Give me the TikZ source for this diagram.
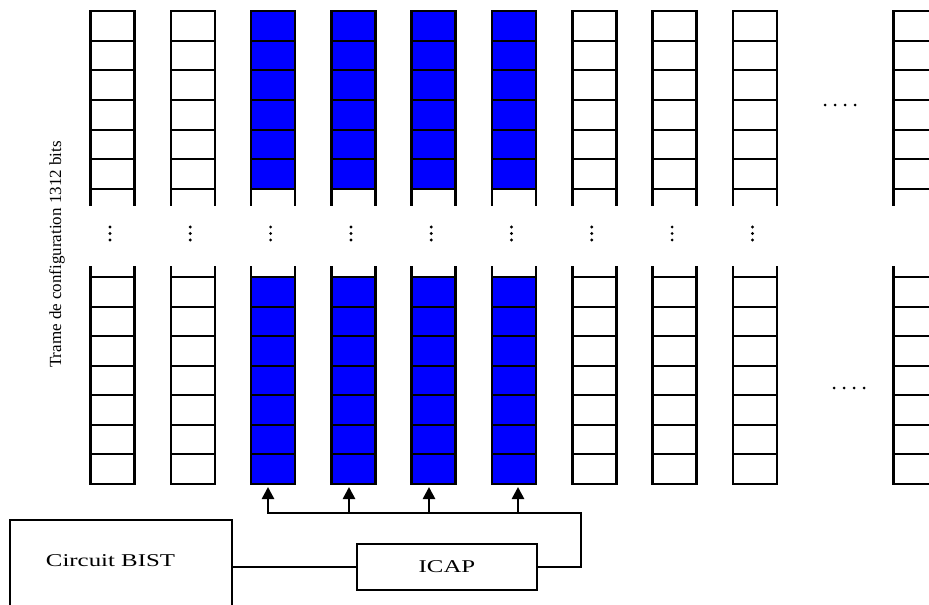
\documentclass[tikz,border=0pt]{standalone}
\usepackage{fontspec}
\setmainfont{Liberation Serif}
\usetikzlibrary{arrows.meta}
\definecolor{cellblue}{RGB}{0,0,255}
\begin{document}
\begin{tikzpicture}[x=1pt,y=-1pt,
  vline/.style={line width=2.6pt},
  hline/.style={line width=2pt},
  boxstyle/.style={draw,line width=2.4pt,inner sep=0pt,rectangle},
  wire/.style={line width=2.2pt},
  feed/.style={line width=2.6pt,-{Triangle[width=12pt,length=12pt]}},
  dotmark/.style={fill=black,radius=1.6pt},
  lbl/.style={font=\fontsize{18}{18}\selectfont,inner sep=0pt}]
\useasboundingbox (0,0) rectangle (929,605);
\clip (0,0) rectangle (929,605);
% columns
\foreach \i/\x in {1/90.5,2/170.8,3/251.1,4/331.4,5/411.7,6/492.0,7/572.3,8/652.6,9/732.9,10/893.5}{
  \ifnum\i>2 \ifnum\i<7
    \fill[cellblue] (\x,11) rectangle (\x+44,189);
    \fill[cellblue] (\x,277) rectangle (\x+44,484);
  \fi\fi
  \foreach \y in {11,40.67,70.33,100,129.67,159.33,189}
    \draw[hline] (\x,\y) -- (\x+44,\y);
  \foreach \y in {277,306.57,336.14,365.71,395.29,424.86,454.43,484}
    \draw[hline] (\x,\y) -- (\x+44,\y);
  \draw[vline] (\x,10) -- (\x,206);
  \draw[vline] (\x+44,10) -- (\x+44,206);
  \draw[vline] (\x,266) -- (\x,485);
  \draw[vline] (\x+44,266) -- (\x+44,485);
  \ifnum\i<10
    \fill (\x+19.5,227) circle[radius=1.6pt];
    \fill (\x+19.5,233.5) circle[radius=1.6pt];
    \fill (\x+19.5,240) circle[radius=1.6pt];
  \fi
}
% horizontal ellipses
\foreach \x in {825,835,845,855} \fill (\x,105) circle[radius=1.5pt];
\foreach \x in {834,844,854,864} \fill (\x,388) circle[radius=1.5pt];
% side label
\node[rotate=90,font=\fontsize{17}{17}\selectfont,inner sep=0pt] (ylabel) at (57,254.5) {Trame de configuration 1312 bits};
% BIST and ICAP
\node[boxstyle,minimum width=221.5pt,minimum height=140pt] (bist) at (121,590) {};
\node[lbl] (bisttxt) at (110.5,561) {\scalebox{1.38}[1]{Circuit BIST}};
\node[boxstyle,minimum width=180pt,minimum height=46pt] (icap) at (447,567) {\scalebox{1.38}[1]{\fontsize{18}{18}\selectfont ICAP}};
\draw[wire] (bist.east |- icap.west) -- (icap.west);
% bus
\coordinate (j3) at (268,513);
\coordinate (j4) at (349,513);
\coordinate (j5) at (429,513);
\coordinate (j6) at (518,513);
\coordinate (bend) at (581,513);
\coordinate (t3) at (268,487);
\coordinate (t4) at (349,487);
\coordinate (t5) at (429,487);
\coordinate (t6) at (518,487);
\draw[line width=2.6pt] (icap.east) -| (bend) -- ([xshift=-1.3pt]j3);
\foreach \k in {3,4,5,6} \draw[feed] ([yshift=1.3pt]j\k) -- (t\k);
\end{tikzpicture}
\end{document}
